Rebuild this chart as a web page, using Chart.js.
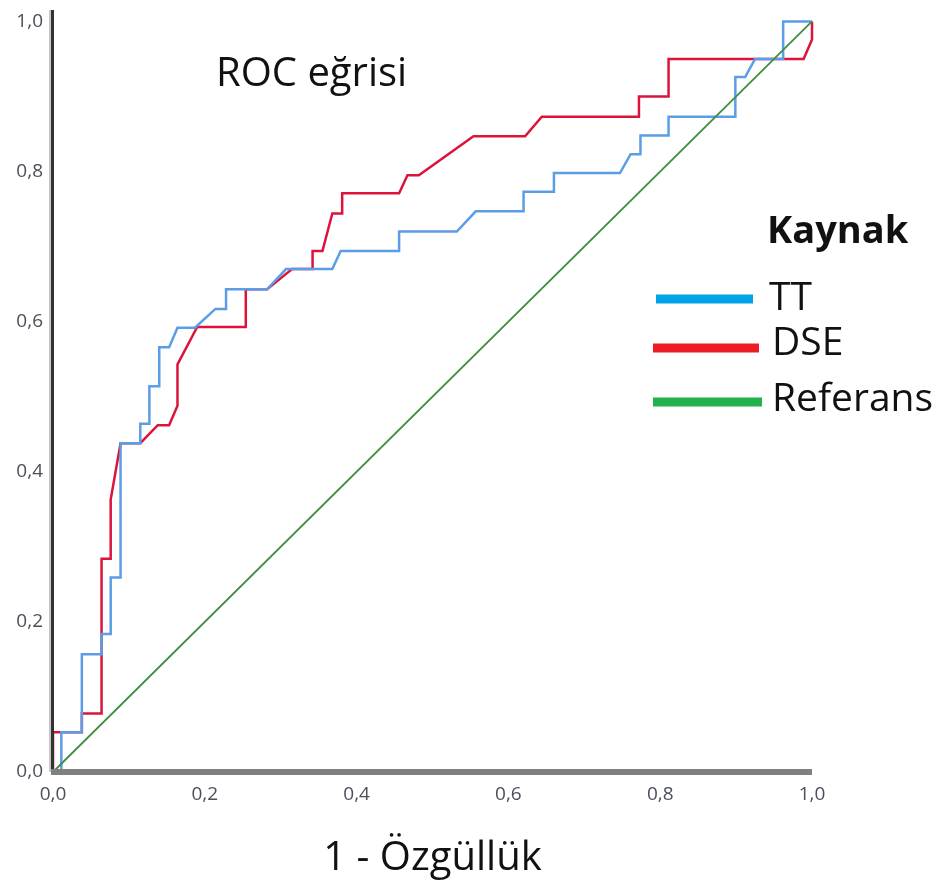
<!DOCTYPE html>
<html>
<head>
<meta charset="utf-8">
<script src="https://cdn.jsdelivr.net/npm/chart.js@4/dist/chart.umd.min.js"></script>
<style>
  html, body { margin: 0; padding: 0; background: #fff; }
  #wrap { width: 943px; height: 889px; position: relative; }
</style>
</head>
<body>
<div id="wrap"><canvas id="rocChart"></canvas></div>
<script>
// ROC curve data (1 - specificity vs sensitivity)
const ttFpr  = [0, 0.011, 0.011, 0.038, 0.038, 0.064, 0.064, 0.076, 0.076, 0.089, 0.089, 0.115, 0.115, 0.127, 0.127, 0.140, 0.140, 0.153, 0.164, 0.187, 0.214, 0.228, 0.228, 0.282, 0.307, 0.368, 0.379, 0.456, 0.456, 0.532, 0.557, 0.620, 0.620, 0.660, 0.660, 0.747, 0.761, 0.774, 0.774, 0.811, 0.811, 0.899, 0.899, 0.912, 0.925, 0.962, 0.962, 1.0];
const ttTpr  = [0, 0, 0.053, 0.053, 0.157, 0.157, 0.184, 0.184, 0.259, 0.259, 0.438, 0.438, 0.464, 0.464, 0.514, 0.514, 0.566, 0.566, 0.592, 0.592, 0.617, 0.617, 0.643, 0.643, 0.670, 0.670, 0.694, 0.694, 0.720, 0.720, 0.747, 0.747, 0.773, 0.773, 0.798, 0.798, 0.823, 0.823, 0.848, 0.848, 0.873, 0.873, 0.926, 0.926, 0.950, 0.950, 1.0, 1.0];

const dseFpr = [0, 0, 0.038, 0.038, 0.064, 0.064, 0.076, 0.076, 0.089, 0.115, 0.138, 0.153, 0.164, 0.164, 0.190, 0.254, 0.254, 0.282, 0.315, 0.342, 0.342, 0.355, 0.368, 0.381, 0.381, 0.456, 0.467, 0.482, 0.554, 0.622, 0.644, 0.772, 0.772, 0.811, 0.811, 0.989, 1.0, 1.0];
const dseTpr = [0, 0.053, 0.053, 0.078, 0.078, 0.284, 0.284, 0.363, 0.438, 0.438, 0.462, 0.462, 0.488, 0.543, 0.593, 0.593, 0.643, 0.643, 0.670, 0.670, 0.694, 0.694, 0.744, 0.744, 0.771, 0.771, 0.795, 0.795, 0.847, 0.847, 0.873, 0.873, 0.900, 0.900, 0.950, 0.950, 0.976, 1.0];

const refX = [0, 1];
const refY = [0, 1];

const axisTicks = [0, 0.2, 0.4, 0.6, 0.8, 1.0];

const seriesNames = ['TT', 'DSE', 'Referans'];
const lineColors = ['#5b9de6', '#dc143c', '#3f8f3f'];
const legendColors = ['#00a2e8', '#ed1c24', '#22b14c'];

function toPoints(xs, ys) {
    return xs.map((x, i) => ({ x: x, y: ys[i] }));
}

const commaFmt = v => v.toFixed(1).replace('.', ',');

// draws the axis lines, the title inside the plot and the "Kaynak" legend
const decorPlugin = {
    id: 'decor',
    afterDatasetsDraw(chart) {
        const { ctx, chartArea: a } = chart;
        ctx.save();
        // y axis: light edge + dark line
        ctx.fillStyle = '#c8c8c8';
        ctx.fillRect(a.left - 4, 10, 2, a.bottom - 10);
        ctx.fillStyle = '#333';
        ctx.fillRect(a.left - 2, 10, 3, a.bottom - 10);
        // x axis: thick gray
        ctx.fillStyle = '#808080';
        ctx.fillRect(a.left - 2, a.bottom - 3, a.right - a.left + 2, 6);

        ctx.fillStyle = '#111';
        ctx.textBaseline = 'alphabetic';
        ctx.textAlign = 'left';
        ctx.font = '40px "Open Sans"';
        ctx.fillText('ROC eğrisi', 216, 86);

        ctx.font = 'bold 38px "Open Sans"';
        ctx.fillText('Kaynak', 767, 243);

        const legendRows = [
            { y: 299, x0: 656, x1: 753, tx: 769, ty: 310 },
            { y: 348, x0: 653, x1: 759, tx: 772, ty: 355 },
            { y: 402, x0: 653, x1: 762, tx: 772, ty: 411 }
        ];
        ctx.font = '39px "Open Sans"';
        legendRows.forEach((r, i) => {
            ctx.fillStyle = legendColors[i];
            ctx.fillRect(r.x0, r.y - 4.5, r.x1 - r.x0, 9);
            ctx.fillStyle = '#111';
            ctx.fillText(seriesNames[i], r.tx, r.ty);
        });
        ctx.restore();
    }
};

const lineStyle = { showLine: true, fill: false, pointRadius: 0, pointHoverRadius: 0, tension: 0, clip: 6 };

new Chart(document.getElementById('rocChart').getContext('2d'), {
    type: 'scatter',
    data: {
        datasets: [
            { ...lineStyle, label: seriesNames[2], data: toPoints(refX, refY), borderColor: lineColors[2], borderWidth: 1.8 },
            { ...lineStyle, label: seriesNames[0], data: toPoints(ttFpr, ttTpr), borderColor: lineColors[0], borderWidth: 2.5 },
            { ...lineStyle, label: seriesNames[1], data: toPoints(dseFpr, dseTpr), borderColor: lineColors[1], borderWidth: 2.5 }
        ]
    },
    options: {
        responsive: true,
        maintainAspectRatio: false,
        animation: false,
        layout: { padding: { top: 12, right: 131, left: 0, bottom: 0 } },
        scales: {
            x: {
                type: 'linear', min: 0, max: 1,
                afterBuildTicks: s => { s.ticks = axisTicks.map(v => ({ value: v })); },
                afterFit: s => { s.height = 117; },
                grid: { display: false, drawTicks: false },
                border: { display: false },
                ticks: { callback: commaFmt, color: '#4a4f5a', font: { family: 'Open Sans', size: 19 }, padding: 11, maxRotation: 0 },
                title: { display: true, text: '1 - Özgüllük', color: '#111', font: { family: 'Open Sans', size: 40 }, padding: { top: 0, bottom: 6 } }
            },
            y: {
                type: 'linear', min: 0, max: 1,
                afterBuildTicks: s => { s.ticks = axisTicks.map(v => ({ value: v })); },
                afterFit: s => { s.width = 53; },
                grid: { display: false, drawTicks: false },
                border: { display: false },
                ticks: { callback: commaFmt, color: '#4a4f5a', font: { family: 'Open Sans', size: 19 }, padding: 10 }
            }
        },
        plugins: {
            legend: { display: false },
            tooltip: { enabled: false }
        }
    },
    plugins: [decorPlugin]
});
</script>
</body>
</html>
